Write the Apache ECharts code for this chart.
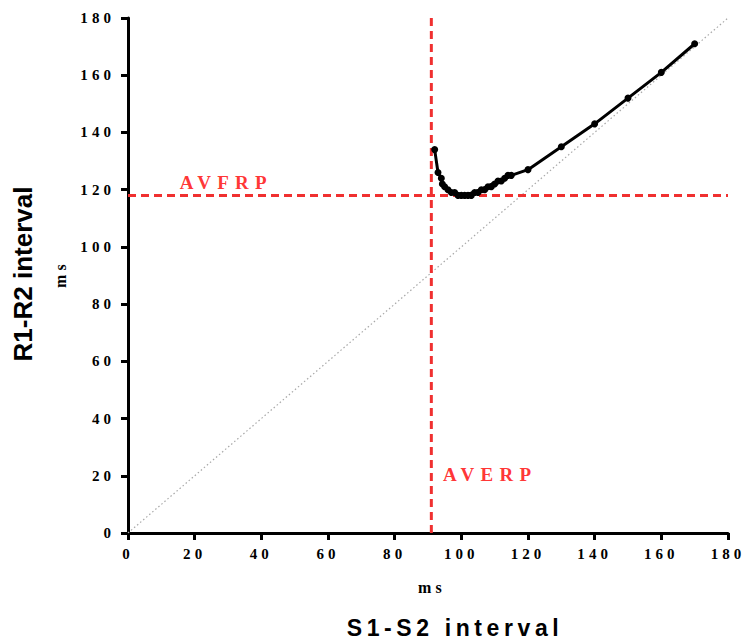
<!DOCTYPE html>
<html>
<head>
<meta charset="utf-8">
<script src="https://cdn.jsdelivr.net/npm/echarts@6/dist/echarts.min.js"></script>
<style>
  html, body { margin: 0; padding: 0; background: #fff; }
  #chart { width: 745px; height: 642px; }
  /* spaced-out lettering used by the serif labels and the sans titles */
  #chart text[style*="Liberation Serif"] { letter-spacing: 0.27em; }
  #chart text[style*="19px"] { letter-spacing: 0.33em; }
  #chart text[style*="23px"] { letter-spacing: 0.2em; }
</style>
</head>
<body>
<div id="chart"></div>
<script>
// Restitution curve: S1-S2 coupling interval vs. resulting R1-R2 interval (ms)
const s1s2 = [170, 160, 150, 140, 130, 120, 115, 114, 113, 112, 104, 111, 110, 103, 109, 108, 102, 107, 106, 101, 105, 100, 99, 98, 97, 96, 95, 94.3, 94, 93, 92];
const r1r2 = [171, 161, 152, 143, 135, 127, 125, 125, 124, 123, 119, 123, 122, 118, 121, 121, 118, 120, 120, 118, 119, 118, 118, 119, 119, 120, 121, 122, 124, 126, 134];

// Refractory period thresholds (ms)
const AVFRP = 118;
const AVERP = 91;

// Axis ticks
const axisMin = 0;
const axisMax = 180;
const tickStep = 20;

// Threshold label anchors (data coordinates)
const labelTexts = ['AVFRP', 'AVERP'];
const labelX = [15.5, 94.5];
const labelY = [122.5, 20.5];

const curve = s1s2.map((x, i) => [x, r1r2[i]]);
const identity = [[axisMin, axisMin], [axisMax, axisMax]];

const serifBold = (size) => ({ fontFamily: 'Liberation Serif', fontWeight: 'bold', fontSize: size, color: '#000' });

const axisCommon = {
  type: 'value',
  min: axisMin,
  max: axisMax,
  interval: tickStep,
  splitLine: { show: false },
  axisLine: { show: true, onZero: false, lineStyle: { color: '#000', width: 3 } },
  axisTick: { show: true, inside: false, length: 7, lineStyle: { color: '#000', width: 3 } },
};

const chart = echarts.init(document.getElementById('chart'), null, { renderer: 'svg' });

chart.setOption({
  animation: false,
  backgroundColor: '#fff',
  grid: { left: 128, right: 17, top: 18, bottom: 109, containLabel: false },
  xAxis: Object.assign({}, axisCommon, {
    axisLabel: Object.assign(serifBold(15), { margin: 13 }),
  }),
  yAxis: Object.assign({}, axisCommon, {
    axisLabel: Object.assign(serifBold(15), { margin: 13 }),
  }),
  series: [
    {
      name: 'identity',
      type: 'line',
      data: identity,
      symbol: 'none',
      silent: true,
      z: 1,
      lineStyle: { color: '#a8a8a8', width: 1.2, type: [1.5, 2.5] },
    },
    {
      name: 'AVFRP line',
      type: 'line',
      data: [[axisMin, AVFRP], [axisMax, AVFRP]],
      symbol: 'none',
      z: 2,
      lineStyle: { color: '#f03030', width: 3, type: [8, 5] },
    },
    {
      name: 'AVERP line',
      type: 'line',
      data: [[AVERP, axisMin], [AVERP, axisMax]],
      symbol: 'none',
      z: 2,
      lineStyle: { color: '#f03030', width: 3, type: [8, 5] },
    },
    {
      name: 'R1-R2',
      type: 'line',
      data: curve,
      symbol: 'circle',
      symbolSize: 7,
      z: 5,
      lineStyle: { color: '#000', width: 3 },
      itemStyle: { color: '#000' },
    },
    {
      name: 'threshold labels',
      type: 'scatter',
      symbolSize: 0,
      z: 6,
      data: labelTexts.map((t, i) => ({ name: t, value: [labelX[i], labelY[i]] })),
      label: {
        show: true,
        position: 'right',
        distance: 0,
        formatter: (p) => p.name,
        fontFamily: 'Liberation Serif',
        fontWeight: 'bold',
        fontSize: 19,
        color: '#ff0000',
      },
    },
  ],
  graphic: [
    {
      type: 'text', x: 23, y: 274, rotation: Math.PI / 2,
      style: { text: 'R1-R2 interval', fontFamily: 'Liberation Sans', fontWeight: 'bold', fontSize: 26, fill: '#000', align: 'center', verticalAlign: 'middle' },
    },
    {
      type: 'text', x: 60, y: 274, rotation: Math.PI / 2,
      style: { text: 'ms', fontFamily: 'Liberation Serif', fontWeight: 'bold', fontSize: 16, fill: '#000', align: 'center', verticalAlign: 'middle' },
    },
    {
      type: 'text', x: 432, y: 587,
      style: { text: 'ms', fontFamily: 'Liberation Serif', fontWeight: 'bold', fontSize: 16, fill: '#000', align: 'center', verticalAlign: 'middle' },
    },
    {
      type: 'text', x: 455, y: 628,
      style: { text: 'S1-S2 interval', fontFamily: 'Liberation Sans', fontWeight: 'bold', fontSize: 23, fill: '#000', align: 'center', verticalAlign: 'middle' },
    },
  ],
});
</script>
</body>
</html>
